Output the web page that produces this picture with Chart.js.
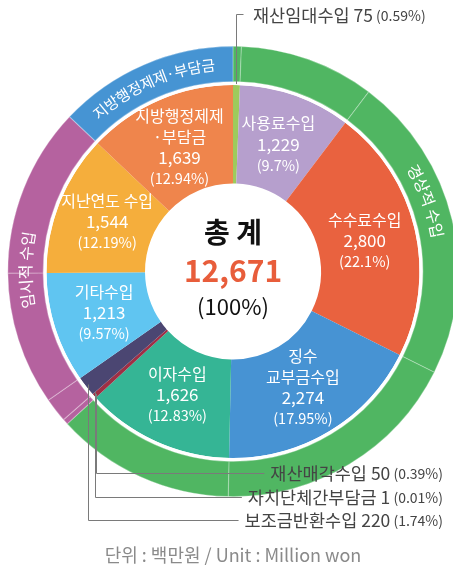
<!DOCTYPE html>
<html>
<head>
<meta charset="utf-8">
<script src="https://cdn.jsdelivr.net/npm/chart.js@4.4.0/dist/chart.umd.min.js"></script>
<style>
  html, body { margin: 0; padding: 0; background: #fff; overflow: hidden; }
  #wrap { position: relative; width: 453px; height: 568px; overflow: hidden; }
  #revenueChart { position: absolute; left: 0; top: 0; }
</style>
</head>
<body>
<div id="wrap"><canvas id="revenueChart" width="466" height="568"></canvas></div>
<script>
// 세외수입 항목 (시계방향, 12시 방향부터)
const categories = ['재산임대수입', '사용료수입', '수수료수입', '징수\n교부금수입', '이자수입',
  '재산매각수입', '자치단체간부담금', '보조금반환수입', '기타수입', '지난연도 수입', '지방행정제제\n·부담금'];
const values = [75, 1229, 2800, 2274, 1626, 50, 1, 220, 1213, 1544, 1639];
const percentLabels = ['0.59', '9.7', '22.1', '17.95', '12.83', '0.39', '0.01', '1.74', '9.57', '12.19', '12.94'];
const sliceColors = ['#9dcb5c', '#b69fcd', '#e9623f', '#4793d3', '#35b595',
  '#9e2f45', '#d9607a', '#4b4672', '#60c5f1', '#f5ae3c', '#ef854c'];

// 바깥 고리 (구분)
const groups = ['경상적 수입', '임시적 수입', '지방행정제제·부담금'];
const groupOfCategory = [0, 0, 0, 0, 0, 1, 1, 1, 1, 1, 2];
const groupColors = ['#50b662', '#b5629f', '#4694d3'];

const totalText = '12,671';
const unitText = '단위 : 백만원 / Unit : Million won';

const FONT = '"Noto Sans CJK KR", "Noto Sans", sans-serif';
const total = values.reduce((a, b) => a + b, 0);

function drawArcText(ctx, text, cx, cy, r, centerAngle) {
  const chars = [...text];
  const widths = chars.map(ch => ctx.measureText(ch).width);
  const sum = widths.reduce((a, b) => a + b, 0);
  let a = centerAngle - sum / r / 2;
  chars.forEach((ch, k) => {
    const ang = a + widths[k] / 2 / r;
    ctx.save();
    ctx.translate(cx, cy);
    ctx.rotate(ang + Math.PI / 2);
    ctx.fillText(ch, 0, -r);
    ctx.restore();
    a += widths[k] / r;
  });
}

// 라벨, 지시선, 가운데 합계
const labelPlugin = {
  id: 'revenueLabels',
  afterDraw(chart) {
    const ctx = chart.ctx;
    const inner = chart.getDatasetMeta(2).data;
    const outer = chart.getDatasetMeta(0).data;
    const cx = inner[0].x, cy = inner[0].y;
    const rIn = inner[0].innerRadius, rOut = inner[0].outerRadius;

    ctx.save();
    ctx.textAlign = 'center';
    ctx.textBaseline = 'middle';
    ctx.fillStyle = '#fff';

    // 안쪽 조각 라벨
    inner.forEach((arc, i) => {
      if (values[i] / total < 0.02) return;
      const mid = (arc.startAngle + arc.endAngle) / 2;
      const r = rIn + 0.48 * (rOut - rIn);
      const px = cx + r * Math.cos(mid), py = cy + r * Math.sin(mid);
      const lines = categories[i].split('\n').map(t => ({ t, f: '16px ' + FONT }));
      lines.push({ t: values[i].toLocaleString('en-US'), f: '17px ' + FONT });
      lines.push({ t: '(' + percentLabels[i] + '%)', f: '14.5px ' + FONT });
      const step = 21;
      const y0 = py - step * (lines.length - 1) / 2;
      lines.forEach((ln, k) => {
        ctx.font = ln.f;
        ctx.fillText(ln.t, px, y0 + k * step);
      });
    });

    // 바깥 고리 라벨 (곡선)
    const labelAtDeg = { 0: 70 };
    const ringR = (outer[0].innerRadius + outer[0].outerRadius) / 2;
    groups.forEach((g, gi) => {
      const arcs = outer.filter((a, i) => groupOfCategory[i] === gi);
      const s = Math.min(...arcs.map(a => a.startAngle));
      const e = Math.max(...arcs.map(a => a.endAngle));
      let c = (s + e) / 2;
      if (labelAtDeg[gi] !== undefined) c = -Math.PI / 2 + labelAtDeg[gi] * Math.PI / 180;
      ctx.font = (gi === 2 ? '15px ' : '16px ') + FONT;
      drawArcText(ctx, g, cx, cy, ringR, c);
    });

    // 가운데 합계
    ctx.fillStyle = '#111';
    ctx.font = 'bold 28px ' + FONT;
    ctx.fillText('총 계', cx, cy - 39);
    ctx.fillStyle = '#e85d3b';
    ctx.font = 'bold 30px ' + FONT;
    ctx.fillText(totalText, cx, cy - 1);
    ctx.fillStyle = '#111';
    ctx.font = '22px ' + FONT;
    ctx.fillText('(100%)', cx, cy + 35);

    // 작은 조각: 바깥 라벨 + 지시선
    ctx.strokeStyle = '#7a7a7a';
    ctx.lineWidth = 1;
    const bottomY = [473, 497, 520];
    let b = 0;
    inner.forEach((arc, i) => {
      if (values[i] / total >= 0.02) return;
      const mid = (arc.startAngle + arc.endAngle) / 2;
      const r = rOut - 3;
      const ax = Math.round(cx + r * Math.cos(mid)) + 0.5;
      const ay = cy + r * Math.sin(mid);
      const name = categories[i].replace('\n', '') + ' ' + values[i].toLocaleString('en-US');
      const pct = ' (' + percentLabels[i] + '%)';
      ctx.font = '17.5px ' + FONT;
      const wName = ctx.measureText(name).width;
      ctx.font = '14px ' + FONT;
      const wPct = ctx.measureText(pct).width;
      let tx, ty;
      if (i === 0) {
        ty = 15;
        tx = 253;
        ctx.beginPath();
        ctx.moveTo(ax, ay - 4);
        ctx.lineTo(ax, ty - 0.5);
        ctx.lineTo(ax + 7, ty - 0.5);
        ctx.stroke();
      } else {
        ty = bottomY[b++];
        tx = 443 - wName - wPct;
        ctx.beginPath();
        ctx.moveTo(ax, ay);
        ctx.lineTo(ax, ty + 0.5);
        ctx.lineTo(tx - 6, ty + 0.5);
        ctx.stroke();
      }
      ctx.textAlign = 'left';
      ctx.fillStyle = '#444';
      ctx.font = '17.5px ' + FONT;
      ctx.fillText(name, tx, ty);
      ctx.font = '14px ' + FONT;
      ctx.fillText(pct, tx + wName, ty + 1);
    });

    // 단위
    ctx.textAlign = 'center';
    ctx.fillStyle = '#8a8a8a';
    ctx.font = '18px ' + FONT;
    ctx.fillText(unitText, 233, 555);
    ctx.restore();
  }
};

document.addEventListener('DOMContentLoaded', function() {
  const ctx = document.getElementById('revenueChart').getContext('2d');
  new Chart(ctx, {
    type: 'doughnut',
    data: {
      labels: categories,
      datasets: [{
        // 바깥 고리: 구분별 색
        data: values,
        backgroundColor: groupOfCategory.map(g => groupColors[g]),
        borderColor: 'rgba(255,255,255,0.3)',
        borderWidth: 0.6,
        borderAlign: 'inner',
        weight: 36
      }, {
        // 흰색 간격
        data: [1],
        backgroundColor: ['#ffffff'],
        borderWidth: 0,
        weight: 3
      }, {
        data: values,
        backgroundColor: sliceColors,
        borderWidth: 0,
        weight: 98.5
      }]
    },
    options: {
      responsive: false,
      animation: false,
      events: [],
      cutout: 88,
      hoverOffset: 0,
      offset: 0,
      layout: { padding: { top: 46, bottom: 71, left: 0, right: 0 } },
      plugins: {
        legend: { display: false },
        tooltip: { enabled: false }
      }
    },
    plugins: [labelPlugin]
  });
});
</script>
</body>
</html>
